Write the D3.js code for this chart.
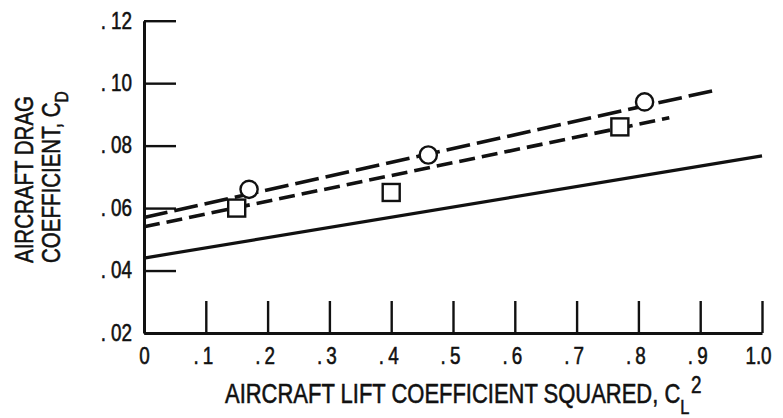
<!DOCTYPE html>
<html>
<head>
<meta charset="utf-8">
<script src="https://cdn.jsdelivr.net/npm/d3@7"></script>
<style>
  html, body { margin: 0; padding: 0; background: #fff; }
  svg { display: block; }
  text { font-family: "Liberation Sans", Arial, sans-serif; fill: #111; stroke: #111; stroke-width: 0.55px; }
</style>
</head>
<body>
<svg id="chart" width="783" height="418"></svg>
<script>
// Axis ticks
const xTicks = [0, 0.1, 0.2, 0.3, 0.4, 0.5, 0.6, 0.7, 0.8, 0.9, 1.0];
const xTickLabels = ["0", ".1", ".2", ".3", ".4", ".5", ".6", ".7", ".8", ".9", "1.0"];
const yTicks = [0.02, 0.04, 0.06, 0.08, 0.10, 0.12];
const yTickLabels = [".02", ".04", ".06", ".08", ".10", ".12"];

// Measured points: circles and squares (C_L^2, C_D)
const circleCL2 = [0.17, 0.46, 0.81];
const circleCD  = [0.066, 0.077, 0.094];
const squareCL2 = [0.15, 0.40, 0.77];
const squareCD  = [0.060, 0.065, 0.086];

// Fitted lines: end points (C_L^2, C_D)
const circleFitCL2 = [0, 0.93];
const circleFitCD  = [0.057, 0.098];
const squareFitCL2 = [0, 0.85];
const squareFitCD  = [0.054, 0.0889];
const baseFitCL2   = [0, 1.0];
const baseFitCD    = [0.044, 0.0767];

const svg = d3.select("#chart");
const ink = "#111";
const narrow = 0.82;   // horizontal squeeze for a condensed lettering look

const x = d3.scaleLinear().domain([0, 1]).range([144, 762]);
const y = d3.scaleLinear().domain([0.02, 0.12]).range([333, 20.7]);

// Split a label like ".12" so the point sits a little apart from the digits
function spacedLabel(sel, labels, gap) {
  sel.each(function(d, i) {
    const t = d3.select(this);
    const s = labels[i];
    t.text(null);
    if (s.indexOf(".") === 0) {
      t.append("tspan").text(".");
      t.append("tspan").attr("dx", gap).text(s.slice(1));
    } else {
      t.text(s);
    }
  });
}

// x axis with inward ticks
const gx = svg.append("g")
  .attr("transform", `translate(0,${y(0.02)})`)
  .call(d3.axisBottom(x).tickValues(xTicks).tickSize(-32).tickSizeOuter(0).tickPadding(15).tickFormat((d, i) => xTickLabels[i]));
gx.attr("font-family", null).attr("font-size", null);
gx.select(".domain").attr("stroke", ink).attr("stroke-width", 3);
gx.selectAll(".tick line").attr("stroke", ink).attr("stroke-width", 2.4);
gx.selectAll(".tick text")
  .attr("font-size", 23)
  .attr("fill", ink)
  .attr("transform", (d, i) => {
    const shift = xTickLabels[i].startsWith(".") ? -3 : (i === 10 ? -4 : 0);
    return `translate(${shift},0) scale(${narrow},1)`;
  })
  .call(spacedLabel, xTickLabels, 5);

// y axis with inward ticks
const gy = svg.append("g")
  .attr("transform", `translate(${x(0)},0)`)
  .call(d3.axisLeft(y).tickValues(yTicks).tickSize(-32).tickSizeOuter(0).tickPadding(12).tickFormat((d, i) => yTickLabels[i]));
gy.attr("font-family", null).attr("font-size", null);
gy.select(".domain").attr("stroke", ink).attr("stroke-width", 3);
gy.selectAll(".tick line").attr("stroke", ink).attr("stroke-width", 2.4);
gy.selectAll(".tick text")
  .attr("font-size", 23)
  .attr("fill", ink)
  .attr("x", 0)
  .attr("transform", `translate(-12,0) scale(${narrow},1)`)
  .call(spacedLabel, yTickLabels, 6);

// Fitted lines
const line = d3.line().x(d => x(d[0])).y(d => y(d[1]));
function fit(xs, ys) { return xs.map((v, i) => [v, ys[i]]); }

svg.append("path").datum(fit(baseFitCL2, baseFitCD))
  .attr("d", line).attr("fill", "none").attr("stroke", ink).attr("stroke-width", 3.2);
svg.append("path").datum(fit(squareFitCL2, squareFitCD))
  .attr("d", line).attr("fill", "none").attr("stroke", ink).attr("stroke-width", 3.6)
  .attr("stroke-dasharray", "16 7");
svg.append("path").datum(fit(circleFitCL2, circleFitCD))
  .attr("d", line).attr("fill", "none").attr("stroke", ink).attr("stroke-width", 3.6)
  .attr("stroke-dasharray", "24 7");

// Markers
svg.append("g").selectAll("rect")
  .data(squareCL2.map((v, i) => [v, squareCD[i]]))
  .join("rect")
  .attr("x", d => x(d[0]) - 8.5).attr("y", d => y(d[1]) - 8.5)
  .attr("width", 17).attr("height", 17)
  .attr("fill", "#fff").attr("stroke", ink).attr("stroke-width", 2.4);

svg.append("g").selectAll("circle")
  .data(circleCL2.map((v, i) => [v, circleCD[i]]))
  .join("circle")
  .attr("cx", d => x(d[0])).attr("cy", d => y(d[1])).attr("r", 8.6)
  .attr("fill", "#fff").attr("stroke", ink).attr("stroke-width", 2.4);

// Axis titles
const xt = svg.append("text")
  .attr("transform", `translate(225,403) scale(${narrow},1)`)
  .attr("font-size", 26.8);
xt.append("tspan").text("AIRCRAFT LIFT COEFFICIENT SQUARED, C");
xt.append("tspan").attr("font-size", 20).attr("dy", 11).text("L");
xt.append("tspan").attr("font-size", 23).attr("dy", -21).attr("dx", 2).text("2");

const yt = svg.append("text")
  .attr("transform", `translate(33,263) rotate(-90) scale(${narrow},1)`)
  .attr("font-size", 25);
yt.append("tspan").text("AIRCRAFT DRAG");

const yt2 = svg.append("text")
  .attr("transform", `translate(60,263) rotate(-90) scale(${narrow},1)`)
  .attr("font-size", 25);
yt2.append("tspan").text("COEFFICIENT, C");
yt2.append("tspan").attr("font-size", 19).attr("dy", 8).text("D");
</script>
</body>
</html>
